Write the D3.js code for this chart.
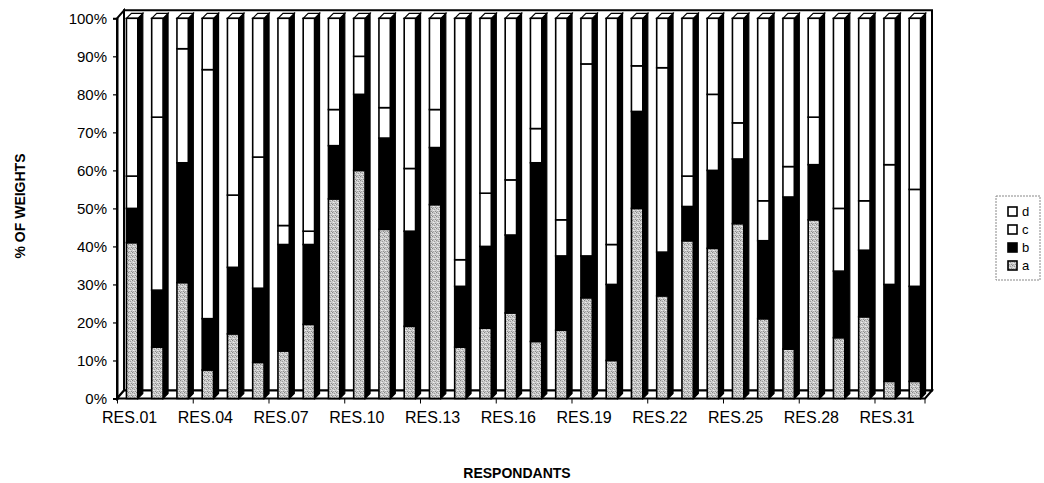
<!DOCTYPE html>
<html>
<head>
<meta charset="utf-8">
<script src="https://cdn.jsdelivr.net/npm/d3@7"></script>
<style>
  html, body { margin: 0; padding: 0; background: #fff; }
  svg { display: block; font-family: "Liberation Sans", Arial, Helvetica, sans-serif; }
</style>
</head>
<body>
<svg id="chart" width="1044" height="483"></svg>
<script>
// Respondent weights, in percent of each respondent's total
const respondents = ["RES.01","RES.02","RES.03","RES.04","RES.05","RES.06","RES.07","RES.08",
  "RES.09","RES.10","RES.11","RES.12","RES.13","RES.14","RES.15","RES.16",
  "RES.17","RES.18","RES.19","RES.20","RES.21","RES.22","RES.23","RES.24",
  "RES.25","RES.26","RES.27","RES.28","RES.29","RES.30","RES.31","RES.32"];
const seriesKeys = ["a", "b", "c", "d"];
const weightA = [41, 13.5, 30.5, 7.5, 17, 9.5, 12.5, 19.5, 52.5, 60, 44.5, 19, 51, 13.5, 18.5, 22.5,
  15, 18, 26.5, 10, 50, 27, 41.5, 39.5, 46, 21, 13, 47, 16, 21.5, 4.5, 4.5];
const weightB = [9, 15, 31.5, 13.5, 17.5, 19.5, 28, 21, 14, 20, 24, 25, 15, 16, 21.5, 20.5,
  47, 19.5, 11, 20, 25.5, 11.5, 9, 20.5, 17, 20.5, 40, 14.5, 17.5, 17.5, 25.5, 25];
const weightC = [8.5, 45.5, 30, 65.5, 19, 34.5, 5, 3.5, 9.5, 10, 8, 16.5, 10, 7, 14, 14.5,
  9, 9.5, 50.5, 10.5, 12, 48.5, 8, 20, 9.5, 10.5, 8, 12.5, 16.5, 13, 31.5, 25.5];
const weightD = [41.5, 26, 8, 13.5, 46.5, 36.5, 54.5, 56, 24, 10, 23.5, 39.5, 24, 63.5, 46, 42.5,
  29, 53, 12, 59.5, 12.5, 13, 41.5, 20, 27.5, 48, 39, 26, 50, 48, 38.5, 45];
const yTicks = [0, 0.1, 0.2, 0.3, 0.4, 0.5, 0.6, 0.7, 0.8, 0.9, 1];
const legendOrder = ["d", "c", "b", "a"];

const table = respondents.map((r, i) => ({
  name: r, a: weightA[i], b: weightB[i], c: weightC[i], d: weightD[i]
}));

const svg = d3.select("#chart");

// Plot geometry: front plane plus the receding offset of the 3-D box
const plotL = 117, plotR = 925, plotB = 398.5, plotT = 18.3;
const DX = 7, DY = -8;          // wall depth
const bdx = 5, bdy = -5;        // column depth

const x = d3.scaleBand().domain(respondents).range([plotL, plotR])
  .paddingInner(0.55).paddingOuter(0.275).align(0.68);
const y = d3.scaleLinear().domain([0, 1]).range([plotB, plotT]);

const stacked = d3.stack().keys(seriesKeys).offset(d3.stackOffsetExpand)(table);

// Fill styles: a fine stippled grey for series a
const defs = svg.append("defs");
const pat = defs.append("pattern").attr("id", "grain")
  .attr("width", 4).attr("height", 4).attr("patternUnits", "userSpaceOnUse");
pat.append("rect").attr("width", 4).attr("height", 4).attr("fill", "#c9c9c9");
[[0,0,"#858585"],[2,1,"#9a9a9a"],[1,2,"#eeeeee"],[3,3,"#8e8e8e"],[3,0,"#e4e4e4"],[1,3,"#a6a6a6"],[2,2,"#dddddd"]]
  .forEach(([px, py, c]) => pat.append("rect").attr("x", px).attr("y", py)
    .attr("width", 1).attr("height", 1).attr("fill", c));
const fills = { a: "url(#grain)", b: "#000", c: "#fff", d: "#fff" };

const poly = pts => "M" + pts.map(p => p.join(",")).join("L") + "Z";

// Back wall, left wall and floor
svg.append("path")
  .attr("d", poly([[plotL + DX, plotT + DY], [plotR + DX, plotT + DY], [plotR + DX, plotB + DY], [plotL + DX, plotB + DY]]))
  .attr("fill", "#fff").attr("stroke", "#000").attr("stroke-width", 2);
svg.append("path")
  .attr("d", poly([[plotL, plotT], [plotL + DX, plotT + DY], [plotL + DX, plotB + DY], [plotL, plotB]]))
  .attr("fill", "#fff").attr("stroke", "#000").attr("stroke-width", 2);
svg.append("path")
  .attr("d", poly([[plotL, plotB], [plotR, plotB], [plotR + DX, plotB + DY], [plotL + DX, plotB + DY]]))
  .attr("fill", "#fff").attr("stroke", "#000").attr("stroke-width", 2);

// Columns
const cols = svg.append("g").selectAll("g").data(respondents).join("g");
cols.each(function (name, i) {
  const g = d3.select(this);
  const x0 = x(name), w = x.bandwidth(), x1 = x0 + w;
  // right side face
  g.append("path")
    .attr("d", poly([[x1, y(0)], [x1 + bdx, y(0) + bdy], [x1 + bdx, y(1) + bdy], [x1, y(1)]]))
    .attr("fill", "#000").attr("stroke", "#000").attr("stroke-width", 1.2);
  // top face
  g.append("path")
    .attr("d", poly([[x0, y(1)], [x0 + bdx, y(1) + bdy], [x1 + bdx, y(1) + bdy], [x1, y(1)]]))
    .attr("fill", "#fff").attr("stroke", "#000").attr("stroke-width", 1.2);
  // front face segments
  stacked.forEach(s => {
    const seg = s[i];
    g.append("rect")
      .attr("x", x0).attr("width", w)
      .attr("y", y(seg[1])).attr("height", y(seg[0]) - y(seg[1]))
      .attr("fill", fills[s.key])
      .attr("stroke", "#000").attr("stroke-width", 1.6);
  });
});

// Value axis
const yAxis = svg.append("g").attr("transform", `translate(${plotL},0)`)
  .call(d3.axisLeft(y).tickValues(yTicks).tickFormat(d3.format(".0%")).tickSize(4).tickPadding(6));
yAxis.select(".domain").attr("stroke", "#000").attr("stroke-width", 2);
yAxis.selectAll(".tick line").attr("stroke", "#000").attr("stroke-width", 1.2);
yAxis.selectAll("text").attr("font-size", 15).attr("fill", "#000")
  .attr("font-family", '"Liberation Sans", Arial, sans-serif');

// Category axis: a label on every third respondent
const shown = respondents.filter((r, i) => i % 3 === 0);
const xAxis = svg.append("g").attr("transform", `translate(-2.5,${plotB})`)
  .call(d3.axisBottom(x).tickValues(shown).tickSize(0).tickPadding(13));
xAxis.select(".domain").remove();
xAxis.selectAll("text").attr("font-size", 16).attr("fill", "#000")
  .attr("font-family", '"Liberation Sans", Arial, sans-serif');

// small tick marks between label groups
const stepW = x.step();
const tickXs = shown.map(r => x(r) - (stepW - x.bandwidth()) / 2 - 2).concat([plotR]);
svg.append("g").selectAll("line").data(tickXs).join("line")
  .attr("x1", d => d).attr("x2", d => d)
  .attr("y1", plotB).attr("y2", plotB + 5)
  .attr("stroke", "#000").attr("stroke-width", 1);

// Axis titles
svg.append("text")
  .attr("transform", "translate(25,206) rotate(-90)")
  .attr("text-anchor", "middle")
  .attr("font-size", 14).attr("font-weight", "bold")
  .text("% OF WEIGHTS");
svg.append("text")
  .attr("x", 517).attr("y", 478)
  .attr("text-anchor", "middle")
  .attr("font-size", 14).attr("font-weight", "bold")
  .text("RESPONDANTS");

// Legend
const lg = svg.append("g").attr("transform", "translate(996,196)");
lg.append("rect").attr("x", 0).attr("y", 0).attr("width", 44).attr("height", 84)
  .attr("fill", "#fff").attr("stroke", "#888").attr("stroke-width", 1).attr("stroke-dasharray", "2,1");
legendOrder.forEach((k, j) => {
  const row = lg.append("g").attr("transform", `translate(12,${11 + j * 18})`);
  row.append("rect").attr("width", 9).attr("height", 9)
    .attr("fill", fills[k]).attr("stroke", "#000").attr("stroke-width", 1.6);
  row.append("text").attr("x", 14).attr("y", 8.5)
    .attr("font-size", 13).attr("fill", "#000").text(k);
});
</script>
</body>
</html>
